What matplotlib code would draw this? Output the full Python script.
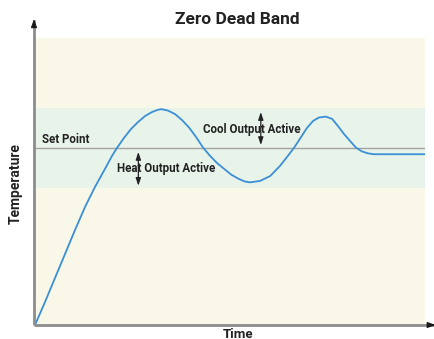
import matplotlib
matplotlib.use("Agg")
import matplotlib.pyplot as plt

plt.rcParams['font.family'] = ['Roboto', 'DejaVu Sans']

# Process temperature response over time (arbitrary units)
time = [0, 2.56, 5.13, 7.69, 10.26, 12.82, 15.38, 17.95, 19.74, 21.03, 22.82, 24.62,
        26.41, 28.21, 30.0, 31.54, 32.44, 34.1, 35.9, 37.7, 39.5, 41.3, 43.1, 44.9,
        46.7, 48.5, 50.3, 52.1, 53.8, 55.1, 57.7, 60.3, 62.8, 64.6, 66.4, 67.9, 69.7,
        71.3, 72.8, 74.6, 76.2, 77.7, 79.2, 80.8, 82.3, 83.8, 85.4, 86.9, 100]
temperature = [0, 8.0, 16.4, 24.7, 33.1, 41.1, 48.1, 54.4, 58.9, 61.7, 65.2, 68.3,
               70.7, 72.8, 74.2, 75.0, 75.2, 74.7, 73.5, 71.4, 68.8, 65.5, 61.8, 58.9,
               56.4, 54.4, 52.4, 51.0, 50.0, 49.7, 50.2, 51.9, 55.4, 58.5, 61.7, 64.8, 68.6,
               71.1, 72.3, 72.6, 71.8, 69.3, 66.6, 64.1, 61.8, 60.5, 59.8, 59.5, 59.5]

set_point = 61.8
band_low, band_high = 47.8, 75.5
heat_arrow = (26.5, 48.5, 60.3)   # x, y_low, y_high
cool_arrow = (57.9, 62.7, 74.2)

title = "Zero Dead Band"
x_label = "Time"
y_label = "Temperature"

cream = "#f8f7e8"
green = "#e8f4ea"
curve_color = "#3a8fd6"
text_color = "#222222"
axis_gray = "#8c8c8c"

fig = plt.figure(figsize=(4.35, 3.39), dpi=100)
fig.patch.set_facecolor("white")
ax = fig.add_axes([35 / 435, 14 / 339, 390 / 435, 287 / 339])
ax.set_xlim(0, 100)
ax.set_ylim(0, 100)
ax.set_facecolor(cream)
for s in ax.spines.values():
    s.set_visible(False)
ax.set_xticks([])
ax.set_yticks([])

ax.axhspan(band_low, band_high, color=green, lw=0, zorder=1)
ax.axhline(set_point, color="#a3a3a3", lw=1.0, zorder=2)
ax.plot(time, temperature, color=curve_color, lw=1.3, zorder=3,
        solid_joinstyle="round", solid_capstyle="round")

# Axes drawn as gray lines with small arrowheads
x0 = -1 / 390
ax.plot([x0, x0], [0, 1.063], transform=ax.transAxes, color=axis_gray, lw=2.0,
        clip_on=False, zorder=5, solid_capstyle="butt")
ax.plot([x0, 1.0256], [0, 0], transform=ax.transAxes, color=axis_gray, lw=2.0,
        clip_on=False, zorder=5, solid_capstyle="butt")
ax.annotate("", xy=(x0, 1.066), xytext=(x0, 1.04), xycoords="axes fraction",
            arrowprops=dict(arrowstyle="-|>,head_length=0.5,head_width=0.18",
                            color="#1a1a1a", lw=0.8, shrinkA=0, shrinkB=0),
            annotation_clip=False, zorder=6)
ax.annotate("", xy=(1.0275, 0), xytext=(1.008, 0), xycoords="axes fraction",
            arrowprops=dict(arrowstyle="-|>,head_length=0.5,head_width=0.18",
                            color="#1a1a1a", lw=0.8, shrinkA=0, shrinkB=0),
            annotation_clip=False, zorder=6)

# Double-headed arrows showing active output regions
for (x, lo, hi) in (heat_arrow, cool_arrow):
    ax.annotate("", xy=(x, hi), xytext=(x, lo), xycoords="data",
                arrowprops=dict(arrowstyle="<|-|>,head_length=0.45,head_width=0.15",
                                color=text_color, lw=0.9, shrinkA=0, shrinkB=0),
                zorder=4)

fs = 8.3
ax.text(1.9, 64.5, "Set Point", fontsize=fs, fontweight="bold", color=text_color,
        ha="left", va="center", zorder=7)
ax.text(20.9, 54.4, "Heat Output Active", fontsize=fs, fontweight="bold",
        color=text_color, ha="left", va="center", zorder=7)
ax.text(43.0, 68.2, "Cool Output Active", fontsize=fs, fontweight="bold",
        color=text_color, ha="left", va="center", zorder=7)

fig.text(237.5 / 435, 1 - 20 / 339, title, fontsize=12.5, fontweight="bold",
         color=text_color, ha="center", va="center")
fig.text(238 / 435, 1 - 334 / 339, x_label, fontsize=9.5, fontweight="bold",
         color=text_color, ha="center", va="center")
fig.text(16 / 435, 1 - 184 / 339, y_label, fontsize=10, fontweight="bold",
         color=text_color, ha="center", va="center", rotation=90)

fig.savefig("out.png", dpi=100, facecolor="white")
